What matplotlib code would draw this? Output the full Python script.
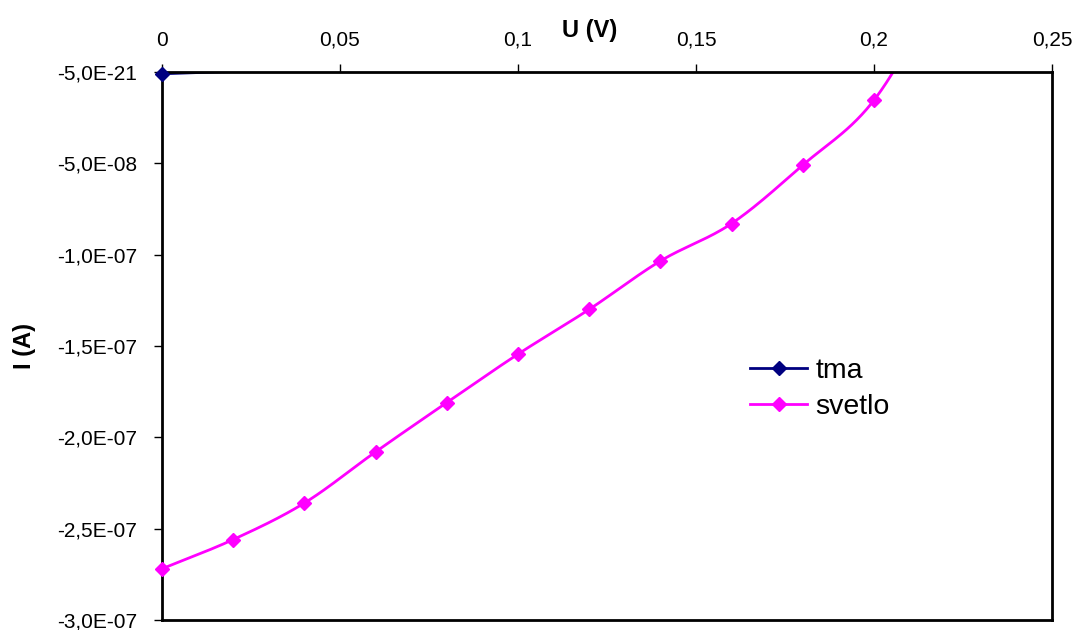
import numpy as np
import matplotlib.pyplot as plt
from matplotlib.ticker import FixedLocator, FixedFormatter

# data
u_tma = [0.0, 0.02, 0.04, 0.06]
i_tma = [-1.0e-9, 2e-10, 4e-10, 6e-10]

u_svetlo = [0.0, 0.02, 0.04, 0.06, 0.08, 0.10, 0.12, 0.14, 0.16, 0.18, 0.20, 0.22]
i_svetlo = [-2.72e-7, -2.56e-7, -2.36e-7, -2.08e-7, -1.81e-7, -1.545e-7,
            -1.30e-7, -1.035e-7, -0.83e-7, -0.51e-7, -0.155e-7, 0.5e-7]

x_ticks = [0, 0.05, 0.1, 0.15, 0.2, 0.25]
x_labels = ['0', '0,05', '0,1', '0,15', '0,2', '0,25']
y_ticks = [-3e-7, -2.5e-7, -2e-7, -1.5e-7, -1e-7, -5e-8, 0]
y_labels = ['-3,0E-07', '-2,5E-07', '-2,0E-07', '-1,5E-07', '-1,0E-07', '-5,0E-08', '-5,0E-21']


def smooth(xs, ys, n=30):
    # catmull-rom like excel's smoothed line
    x = np.asarray(xs, float)
    y = np.asarray(ys, float)
    px = np.concatenate([[2 * x[0] - x[1]], x, [2 * x[-1] - x[-2]]])
    py = np.concatenate([[2 * y[0] - y[1]], y, [2 * y[-1] - y[-2]]])
    outx, outy = [], []
    t = np.linspace(0, 1, n)
    for k in range(1, len(px) - 2):
        for p, out in ((px, outx), (py, outy)):
            p0, p1, p2, p3 = p[k - 1], p[k], p[k + 1], p[k + 2]
            out.extend(0.5 * (2 * p1 + (-p0 + p2) * t + (2 * p0 - 5 * p1 + 4 * p2 - p3) * t ** 2
                              + (-p0 + 3 * p1 - 3 * p2 + p3) * t ** 3))
    return outx, outy


def inside(xs, ys):
    # excel hides markers that fall outside the plot area
    pts = [(a, b) for a, b in zip(xs, ys) if -3e-7 <= b <= 0]
    return [p[0] for p in pts], [p[1] for p in pts]


plt.rcParams['font.family'] = ['Liberation Sans', 'DejaVu Sans']

fig = plt.figure(figsize=(10.8, 6.3), dpi=100)
ax = fig.add_axes([0.15, 0.016, 0.824, 0.8698])

for xs, ys, col, name in ((u_tma, i_tma, '#000080', 'tma'),
                          (u_svetlo, i_svetlo, '#ff00ff', 'svetlo')):
    sx, sy = smooth(xs, ys)
    ax.plot(sx, sy, color=col, lw=2, zorder=3)
    mx, my = inside(xs, ys)
    ax.plot(mx, my, ls='none', marker='D', ms=7, color=col, zorder=6, clip_on=False)
    ax.plot([], [], color=col, lw=2, marker='D', ms=7, label=name)

ax.set_xlim(0, 0.25)
ax.set_ylim(-3e-7, 0)
ax.xaxis.set_major_locator(FixedLocator(x_ticks))
ax.xaxis.set_major_formatter(FixedFormatter(x_labels))
ax.yaxis.set_major_locator(FixedLocator(y_ticks))
ax.yaxis.set_major_formatter(FixedFormatter(y_labels))
ax.xaxis.tick_top()
ax.xaxis.set_label_position('top')
ax.tick_params(axis='both', direction='out', length=6, width=1, labelsize=15)
ax.tick_params(axis='y', pad=12)
ax.tick_params(axis='x', pad=10)
for s in ax.spines.values():
    s.set_linewidth(2)
    s.set_zorder(5)

ax.set_xlabel('U (V)', fontsize=17, fontweight='bold')
ax.xaxis.set_label_coords(0.48, 1.063)
ax.set_ylabel('I (A)', fontsize=17, fontweight='bold')
ax.yaxis.set_label_coords(-0.142, 0.5)

ax.legend(loc='upper left', bbox_to_anchor=(0.632, 0.525), frameon=False, fontsize=20.5,
          handlelength=2.0, handletextpad=0.3, labelspacing=0.35)

fig.savefig('out.png', dpi=100)
